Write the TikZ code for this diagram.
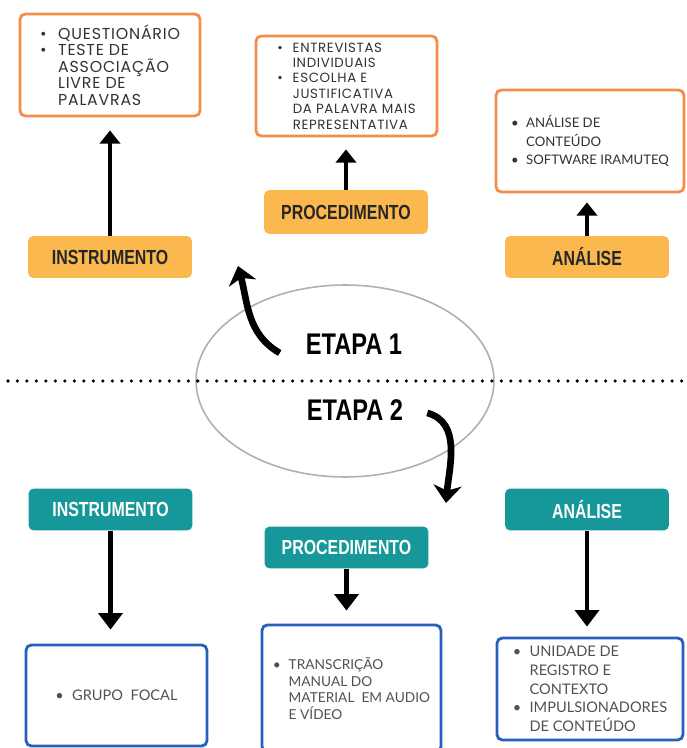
\documentclass[tikz,border=0pt]{standalone}
\usepackage{fontspec}
\setmainfont{Lato}
\newfontfamily\wideface[LetterSpace=5]{Poppins}
\newfontfamily\tagface[FakeStretch=0.78]{Liberation Sans}
\newfontfamily\stageface[FakeStretch=0.79]{Liberation Sans}
\usetikzlibrary{arrows.meta, positioning, shapes.geometric}

\definecolor{tagorange}{RGB}{250,184,78}
\definecolor{lineorange}{RGB}{246,140,75}
\definecolor{tagteal}{RGB}{22,152,154}
\definecolor{lineblue}{RGB}{38,96,188}
\definecolor{ringgray}{RGB}{175,175,175}
\definecolor{boxtext}{RGB}{50,50,50}

\newcommand{\bul}{\makebox[1.15em][l]{\textbullet}}
\newcommand{\ind}{\hspace*{1.15em}}

\begin{document}
\begin{tikzpicture}[x=0.02cm, y=0.02cm, >={Triangle[length=7.6pt, width=11.6pt]},
	stagetag/.style={rounded corners=3pt, minimum width=3.28cm, minimum height=0.84cm, inner sep=0pt, font=\tagface\bfseries\fontsize{11.6}{13}\selectfont},
	tagone/.style={stagetag, fill=tagorange, text=black!85},
	tagtwo/.style={stagetag, fill=tagteal, text=white},
	infobox/.style={draw, line width=1.6pt, rounded corners=3pt, align=left, inner sep=0pt},
	infoone/.style={infobox, draw=lineorange, text=boxtext},
	infotwo/.style={infobox, draw=lineblue, text=boxtext!85, font=\fontsize{8.3}{10.6}\selectfont},
	upline/.style={->, line width=2.3pt},
	downline/.style={-{Triangle[length=9.4pt, width=13.6pt]}, line width=2.3pt},
	bendline/.style={-{Stealth[length=10pt, width=16pt, inset=3pt]}, line width=3.8pt},
	stage/.style={font=\stageface\bfseries\fontsize{17}{18}\selectfont}]
	\useasboundingbox (0,0) rectangle (687,748);

	% etapa 1
	\node[infoone, font=\wideface\fontsize{9}{9.4}\selectfont, minimum width=3.6cm, minimum height=2.04cm] (instrbox) at (110,683)
		{\bul QUESTIONÁRIO\\ \bul TESTE DE\\ \ind ASSOCIAÇÃO\\ \ind LIVRE DE\\ \ind PALAVRAS};
	\node[infoone, font=\wideface\fontsize{7.6}{8.8}\selectfont, minimum width=3.62cm, minimum height=2cm] (procbox) at (346.5,662)
		{\bul ENTREVISTAS\\ \ind INDIVIDUAIS\\ \bul ESCOLHA E\\ \ind JUSTIFICATIVA\\ \ind DA PALAVRA MAIS\\ \ind REPRESENTATIVA};
	\node[infoone, font=\fontsize{7.5}{10.4}\selectfont, minimum width=3.76cm, minimum height=2.04cm] (anbox) at (590,607)
		{\bul ANÁLISE DE\\ \ind CONTEÚDO\\ \bul SOFTWARE IRAMUTEQ};

	\node[tagone] (instr1) at (110,491) {INSTRUMENTO};
	\node[tagone, minimum height=0.88cm] (proc1) at (346,536) {PROCEDIMENTO};
	\node[tagone] (an1) at (587,491) {ANÁLISE};

	\draw[upline, shorten >=0.26cm] (instr1) -- (instrbox);
	\draw[upline, shorten >=0.24cm] (proc1) -- (proc1 |- procbox.south);
	\draw[upline, shorten >=0.18cm] (an1) -- (an1 |- anbox.south);

	% circulo central
	\node[ellipse, draw=ringgray, line width=0.9pt, minimum width=5.96cm, minimum height=3.84cm] (ring) at (345,367) {};
	\coordinate (divl) at (8,367);
	\coordinate (divr) at (686,367);
	\draw[line width=2pt, line cap=round, dash pattern=on 0pt off 5.4pt] (divl) -- (divr);

	\node[stage] (etapa1) at (354,404) {ETAPA 1};
	\node[stage] (etapa2) at (355,338) {ETAPA 2};
	\coordinate (tip1) at (238,482);
	\coordinate (tip2) at (446,245);
	\draw[bendline] ([xshift=-0.4cm, yshift=-0.18cm]etapa1.west) to[out=150, in=-75] (tip1);
	\draw[bendline] ([xshift=0.36cm, yshift=-0.06cm]etapa2.east) to[out=-15, in=85] (tip2);

	% etapa 2
	\node[tagtwo] (instr2) at (110.5,238.5) {INSTRUMENTO};
	\node[tagtwo] (proc2) at (346.5,200.5) {PROCEDIMENTO};
	\node[tagtwo] (an2) at (587,238.5) {ANÁLISE};

	\node[infotwo, minimum width=3.62cm, minimum height=2.02cm] (grupobox) at (116.5,52.5)
		{\bul GRUPO\ \ FOCAL};
	\node[infotwo, font=\fontsize{7.8}{9.5}\selectfont, minimum width=3.58cm, minimum height=2.54cm] (transbox) at (351.5,59.5)
		{\bul TRANSCRIÇÃO\\ \ind MANUAL DO\\ \ind MATERIAL\ \ EM AUDIO\\ \ind E VÍDEO};
	\node[infotwo, minimum width=3.72cm, minimum height=2.04cm] (unitbox) at (590,59)
		{\bul UNIDADE DE\\ \ind REGISTRO E\\ \ind CONTEXTO\\ \bul IMPULSIONADORES\\ \ind DE CONTEÚDO};

	\draw[downline, shorten >=0.28cm] (instr2) -- (instr2 |- grupobox.north);
	\draw[downline, shorten >=0.26cm] (proc2) -- (proc2 |- transbox.north);
	\draw[downline, shorten >=0.2cm] (an2) -- (an2 |- unitbox.north);
\end{tikzpicture}
\end{document}
